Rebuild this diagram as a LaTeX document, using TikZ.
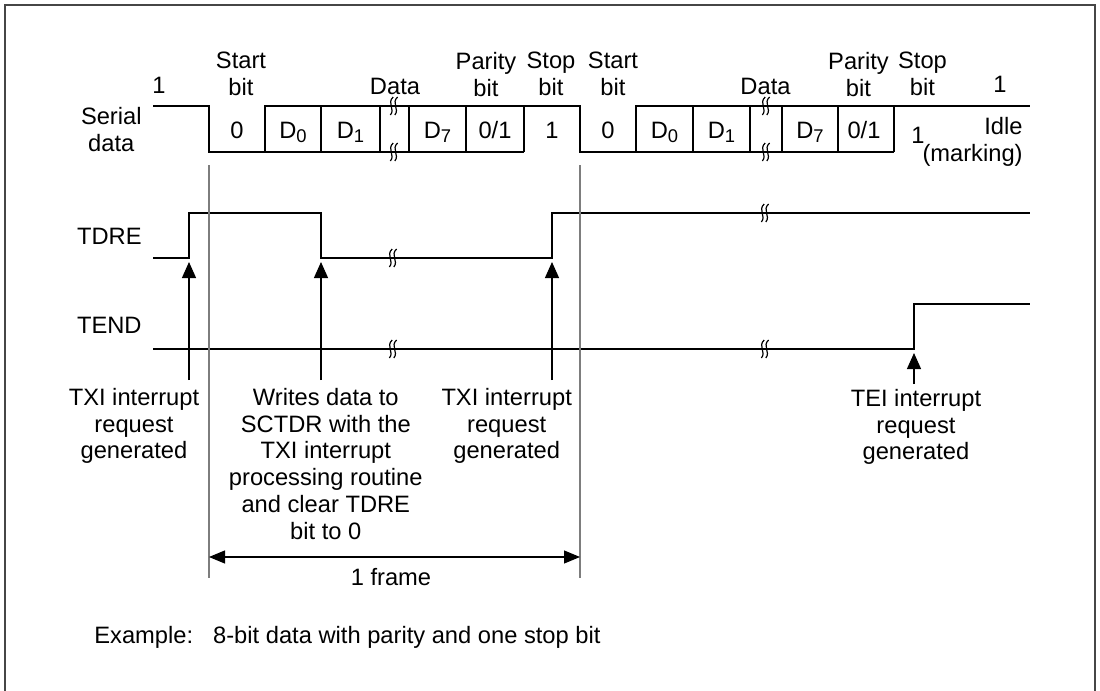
\documentclass[tikz,border=0pt]{standalone}
\usepackage{fontspec}
\setmainfont{Liberation Sans}
\usepackage{xcolor}
\usetikzlibrary{arrows.meta}
\definecolor{cGuide}{RGB}{125,125,125}
\definecolor{cFrame}{RGB}{70,70,70}
% break mark across a signal line
\newcommand{\brkmark}[2]{%
  \draw[line width=0.6pt] (#1-0.8,#2-9) .. controls (#1-7.5,#2-3) and (#1+1.5,#2+3) .. (#1-3.6,#2+9);
  \draw[line width=0.6pt] (#1+3.6,#2-9) .. controls (#1-3.1,#2-3) and (#1+5.9,#2+3) .. (#1+0.8,#2+9);}
\newcommand{\bitsub}[1]{\raisebox{-0.35ex}{\fontsize{9.2}{10}\selectfont#1}}

\begin{document}
\begin{tikzpicture}[x=0.5pt,y=-0.5pt,font=\fontsize{11.85}{13.35}\selectfont,
  wave/.style={line width=0.6pt},
  guide/.style={cGuide,line width=0.9pt},
  upar/.style={line width=0.6pt,-{Triangle[length=8pt,width=7pt]}},
  lbl/.style={inner sep=0pt,align=center}]
\useasboundingbox (0,0) rectangle (1100,691);
\draw[cFrame,line width=1pt] (4.5,691) -- (4.5,5) -- (1095,5) -- (1095,691);

% signal names
\node[lbl,anchor=north east] (sd) at (142,107) {Serial\\data};
\node[lbl,anchor=north east] (tdre) at (142,228) {TDRE};
\node[lbl,anchor=north east] (tend) at (142,317) {TEND};

% serial data
\draw[wave] (153,106) -- (209,106) -- (209,152) -- (524,152);
\draw[wave] (265,152) -- (265,106) -- (580,106) -- (580,152) -- (894,152);
\draw[wave] (636,152) -- (636,106) -- (1030,106);
\draw[wave] (321,106) -- (321,152) (380,106) -- (380,152) (409,106) -- (409,152)
  (466,106) -- (466,152) (524,106) -- (524,152) (693,106) -- (693,152)
  (750,106) -- (750,152) (782,106) -- (782,152) (838,106) -- (838,152)
  (894,106) -- (894,152);
\brkmark{394}{106}\brkmark{394}{152}
\brkmark{766}{106}\brkmark{766}{152}

\node[lbl,anchor=north] (one1) at (159,77) {1};
\node[lbl,anchor=north] (st1) at (241,52) {Start\\bit};
\node[lbl,anchor=north] (dat1) at (395,78) {Data};
\node[lbl,anchor=north] (par1) at (486,52) {Parity\\bit};
\node[lbl,anchor=north] (sp1) at (551,52) {Stop\\bit};
\node[lbl,anchor=north] (st2) at (613,52) {Start\\bit};
\node[lbl,anchor=north] (dat2) at (765.5,78) {Data};
\node[lbl,anchor=north] (par2) at (858.5,52) {Parity\\bit};
\node[lbl,anchor=north] (sp2) at (922.5,52) {Stop\\bit};
\node[lbl,anchor=north] (one2) at (1000,76) {1};

\node[lbl,anchor=base] (b0) at (237,138) {0};
\node[lbl,anchor=base] (b1) at (293,138) {D\bitsub{0}};
\node[lbl,anchor=base] (b2) at (350.5,138) {D\bitsub{1}};
\node[lbl,anchor=base] (b3) at (437.5,138) {D\bitsub{7}};
\node[lbl,anchor=base] (b4) at (495,138) {0/1};
\node[lbl,anchor=base] (b5) at (552,138) {1};
\node[lbl,anchor=base] (c0) at (608,138) {0};
\node[lbl,anchor=base] (c1) at (664.5,138) {D\bitsub{0}};
\node[lbl,anchor=base] (c2) at (721.5,138) {D\bitsub{1}};
\node[lbl,anchor=base] (c3) at (810,138) {D\bitsub{7}};
\node[lbl,anchor=base] (c4) at (864,138) {0/1};
\node[lbl,anchor=base] (c5) at (918,143) {1};
\node[inner sep=0pt,align=right,anchor=north east] (idle) at (1023,117) {Idle\\(marking)};

% TDRE and TEND
\draw[wave] (153,258) -- (189,258) -- (189,213) -- (321,213) -- (321,258) -- (552,258) -- (552,213) -- (1030,213);
\brkmark{393}{258}\brkmark{765}{213}
\draw[wave] (153,349) -- (914,349) -- (914,304) -- (1030,304);
\brkmark{393}{349}\brkmark{765}{349}

% frame guides
\draw[guide] (209,165) -- (209,578);
\draw[guide] (580,165) -- (580,578);

% interrupt requests
\coordinate (e1) at (189,262); \coordinate (f1) at (189,380);
\coordinate (e2) at (321,262); \coordinate (f2) at (321,380);
\coordinate (e3) at (552,262); \coordinate (f3) at (552,380);
\coordinate (e4) at (914,353); \coordinate (f4) at (914,384);
\draw[upar] (f1) -- (e1);
\draw[upar] (f2) -- (e2);
\draw[upar] (f3) -- (e3);
\draw[upar] (f4) -- (e4);
\node[lbl,anchor=north] (txi1) at (134,388) {TXI interrupt\\request\\generated};
\node[lbl,anchor=north] (wr) at (325.8,388) {Writes data to\\SCTDR with the\\TXI interrupt\\processing routine\\and clear TDRE\\bit to 0};
\node[lbl,anchor=north] (txi2) at (506.7,388) {TXI interrupt\\request\\generated};
\node[lbl,anchor=north] (tei) at (916,389) {TEI interrupt\\request\\generated};

% one frame
\coordinate (fl) at (209,557); \coordinate (fr) at (580,557);
\draw[line width=0.6pt,{Triangle[length=8pt,width=6.5pt]}-{Triangle[length=8pt,width=6.5pt]}] (fl) -- (fr);
\node[lbl,anchor=north] (frm) at (391,568) {1 frame};

\node[inner sep=0pt,anchor=base west] (ex) at (94,643) {Example:\hspace{10pt}8-bit data with parity and one stop bit};
\end{tikzpicture}
\end{document}
